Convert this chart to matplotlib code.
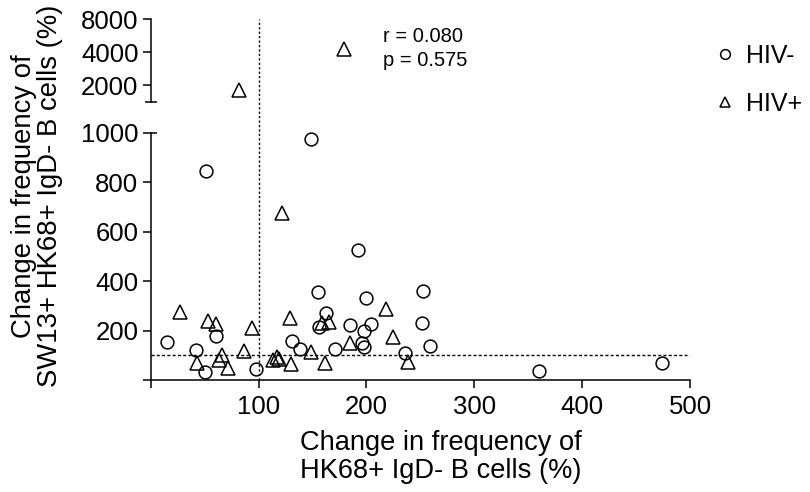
import matplotlib
matplotlib.use('Agg')
import matplotlib.pyplot as plt
import numpy as np
from matplotlib.lines import Line2D
from matplotlib.transforms import blended_transform_factory
from matplotlib.ticker import FixedLocator, FixedFormatter, NullLocator, NullFormatter

plt.rcParams['font.family'] = ['Liberation Sans', 'DejaVu Sans']

# ---------------- data ----------------
hiv_neg_x = [14.8, 42, 50.4, 51.1, 60.6, 97.5, 130.9, 138.6, 148.8, 154.7, 156.3,
             162.5, 171.1, 185, 192.2, 195.9, 197.4, 198.1, 199.9, 204.3, 236.1,
             251.6, 252.2, 259.3, 359.9, 474.5]
hiv_neg_y = [153, 122, 34, 845, 180, 43, 158, 124, 976, 356, 216,
             272, 124, 223, 527, 149, 135, 200, 334, 226, 111,
             232, 362, 138, 38, 68]
hiv_pos_x = [27.2, 43.3, 53.5, 60.6, 63.4, 65.9, 72, 81.6, 86.6, 93.8, 113.2,
             117, 119.2, 121.6, 128.7, 130.3, 148.8, 158.8, 161.8, 165.5, 178.9,
             185, 218.5, 224.7, 238.6]
hiv_pos_y = [277, 70, 237, 227, 81, 101, 50, 1800, 119, 210, 81,
             92, 84, 676, 250, 65, 112, 232, 68, 236, 4290,
             149, 288, 173, 74]

series_labels = ['HIV-', 'HIV+']
x_ticks = [0, 100, 200, 300, 400, 500]
x_tick_labels = ['', '100', '200', '300', '400', '500']
y_low_ticks = [0, 200, 400, 600, 800, 1000]
y_low_labels = ['', '200', '400', '600', '800', '1000']
y_high_ticks = [2000, 4000, 8000]
y_high_labels = ['2000', '4000', '8000']
y_low_lim = (0, 1000)
y_high_lim = (1417, 8000)
x_lim = (0, 500)
x_ref = 100
y_ref = 100
stats_text = ['r = 0.080', 'p = 0.575']
xlabel = 'Change in frequency of\nHK68+ IgD- B cells (%)'
ylabel = 'Change in frequency of\nSW13+ HK68+ IgD- B cells (%)'

# ---------------- figure ----------------
FW, FH = 810, 492
fig = plt.figure(figsize=(FW / 100, FH / 100), dpi=100)
L = 150.7 / FW
W = (690 - 150.7) / FW
ax_lo = fig.add_axes([L, 1 - 380 / FH, W, (380 - 133) / FH])
ax_hi = fig.add_axes([L, 1 - 101.7 / FH, W, (101.7 - 19.3) / FH])

tick_fs = 18.5
lw_axis = 1.1
tick_len = 5.8

hx_n = np.array(hiv_neg_x); hy_n = np.array(hiv_neg_y)
hx_p = np.array(hiv_pos_x); hy_p = np.array(hiv_pos_y)

mk_neg = dict(marker='o', ms=9.2, mfc='none', mec='black', mew=1.1, ls='none', clip_on=False)
mk_pos = dict(marker='^', ms=9.6, mfc='none', mec='black', mew=1.1, ls='none', clip_on=False)

for ax, lim in ((ax_lo, y_low_lim), (ax_hi, y_high_lim)):
    mn = (hy_n >= lim[0] - 50) & (hy_n <= lim[1])
    mp = (hy_p >= lim[0] - 50) & (hy_p <= lim[1])
    ax.plot(hx_n[mn], hy_n[mn], zorder=3, **mk_neg)
    ax.plot(hx_p[mp], hy_p[mp], zorder=3, **mk_pos)
    ax.set_xlim(*x_lim)
    ax.set_facecolor('none')

# lower axes
ax_lo.set_ylim(*y_low_lim)
for s in ('top', 'right'):
    ax_lo.spines[s].set_visible(False)
for s in ('left', 'bottom'):
    ax_lo.spines[s].set_linewidth(lw_axis)
ax_lo.set_xticks(x_ticks)
ax_lo.set_xticklabels(x_tick_labels)
ax_lo.set_yticks(y_low_ticks)
ax_lo.set_yticklabels(y_low_labels)
ax_lo.tick_params(axis='both', direction='out', length=tick_len, width=lw_axis,
                  labelsize=tick_fs, color='black')
ax_lo.tick_params(axis='x', pad=5)
ax_lo.tick_params(axis='y', pad=3)
ax_lo.yaxis.remove_overlapping_locs = False
ax_lo.yaxis.set_minor_locator(FixedLocator([y_low_lim[1]]))
ax_lo.tick_params(axis='y', which='minor', direction='in', length=4.3, width=lw_axis)
ax_lo.xaxis.set_minor_locator(NullLocator())
ax_lo.axhline(y_ref, color='black', lw=1.0, ls=(0, (2.2, 1.6)), zorder=1)

# upper axes
ax_hi.set_yscale('log', base=2)
ax_hi.set_ylim(*y_high_lim)
for s in ('top', 'right', 'bottom'):
    ax_hi.spines[s].set_visible(False)
ax_hi.spines['left'].set_linewidth(lw_axis)
ax_hi.set_xticks([])
ax_hi.yaxis.set_major_locator(FixedLocator(y_high_ticks))
ax_hi.yaxis.set_major_formatter(FixedFormatter(y_high_labels))
ax_hi.yaxis.set_minor_locator(FixedLocator([y_high_lim[0]]))
ax_hi.yaxis.set_minor_formatter(NullFormatter())
ax_hi.tick_params(axis='y', which='major', direction='out', length=tick_len, width=lw_axis,
                  labelsize=tick_fs, pad=3)
ax_hi.tick_params(axis='y', which='minor', direction='inout', length=8.0, width=lw_axis)

# vertical reference line spanning both panels (incl. the gap)
trans = blended_transform_factory(ax_lo.transData, fig.transFigure)
fig.add_artist(Line2D([x_ref, x_ref], [1 - 380 / FH, 1 - 19.3 / FH], transform=trans,
                      color='black', lw=1.0, ls=(0, (1.6, 1.6)), zorder=1))

# stats text
fig.text(383 / FW, 1 - 36 / FH, stats_text[0], fontsize=14.5, ha='left', va='center')
fig.text(383 / FW, 1 - 60 / FH, stats_text[1], fontsize=14.5, ha='left', va='center')

# axis labels
fig.text(300 / FW, 1 - 457 / FH, xlabel, fontsize=19.6, ha='left', va='center',
         multialignment='left', linespacing=1.12)
fig.text(37 / FW, 1 - 196 / FH, ylabel, fontsize=19.8, ha='center', va='center',
         rotation=90, multialignment='center', linespacing=1.02)

# legend
h_neg = Line2D([], [], marker='o', ms=7, mfc='none', mec='black', mew=1.1, ls='none')
h_pos = Line2D([], [], marker='^', ms=7, mfc='none', mec='black', mew=1.1, ls='none')
fig.legend([h_neg, h_pos], series_labels, loc='upper left',
           bbox_to_anchor=(715 / FW, 1 - 44 / FH), frameon=False, fontsize=18,
           handlelength=0.8, handletextpad=0.45, labelspacing=0.95,
           borderpad=0, borderaxespad=0)

fig.savefig('out.png', dpi=100)
